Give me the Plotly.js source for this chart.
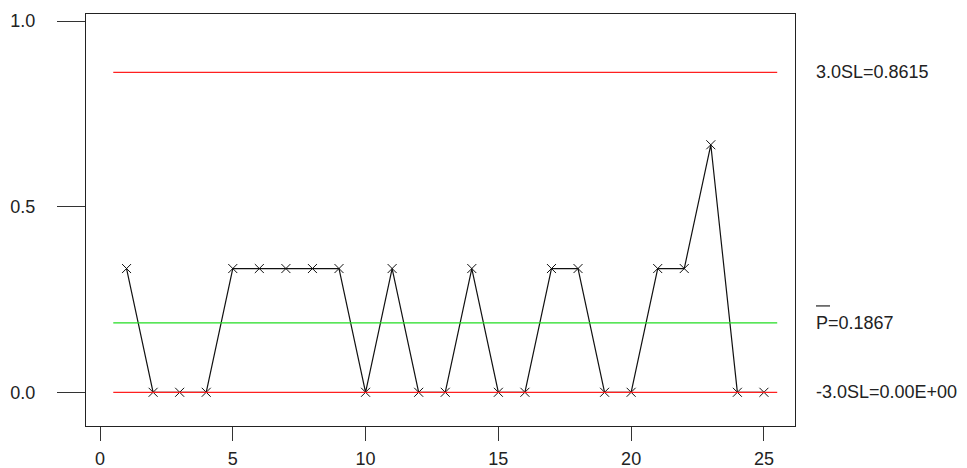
<!DOCTYPE html>
<html><head><meta charset="utf-8">
<script src="https://cdn.plot.ly/plotly-3.0.1.min.js"></script>
<style>body{margin:0;background:#fff}#c{width:967px;height:468px}</style>
</head><body><div id="c"></div>
<script>
const samples = [1,2,3,4,5,6,7,8,9,10,11,12,13,14,15,16,17,18,19,20,21,22,23,24,25];
const proportions = [0.3333,0,0,0,0.3333,0.3333,0.3333,0.3333,0.3333,0,0.3333,0,0,0.3333,0,0,0.3333,0.3333,0,0,0.3333,0.3333,0.6667,0,0];
const ucl = 0.8615;
const center = 0.1867;
const lcl = 0.0;
const limitSpan = [0.5, 25.5];
const limitLabels = ["3.0SL=0.8615", "P=0.1867", "-3.0SL=0.00E+00"];
const xTicks = [0,5,10,15,20,25];
const yTicks = [0.0,0.5,1.0];

const tickFont = {family: "Liberation Sans, Arial, sans-serif", size: 18, color: "#222"};
const annFont = {family: "Liberation Sans, Arial, sans-serif", size: 18, color: "#222"};

const traces = [
  {x: samples, y: proportions, mode: "lines+markers", type: "scatter",
   line: {color: "#111", width: 1.2},
   marker: {symbol: "x-thin-open", size: 9, line: {color: "#111", width: 1}, color: "#111"},
   hoverinfo: "x+y"},
  {x: limitSpan, y: [ucl, ucl], mode: "lines", line: {color: "#ff2020", width: 1.2}},
  {x: limitSpan, y: [center, center], mode: "lines", line: {color: "#22dd22", width: 1.2}},
  {x: limitSpan, y: [lcl, lcl], mode: "lines", line: {color: "#ff2020", width: 1.2}}
];

const limVals = [ucl, center, lcl];
const annotations = limVals.map((v, i) => ({
  x: 1.0275, xref: "paper", y: v, yref: "y", xanchor: "left", yanchor: "middle",
  text: limitLabels[i], showarrow: false, font: annFont
}));

const layout = {
  width: 967, height: 468,
  margin: {l: 86, r: 172, t: 14, b: 42},
  paper_bgcolor: "#fff", plot_bgcolor: "#fff",
  showlegend: false,
  font: tickFont,
  xaxis: {range: [-0.527, 26.17], tickvals: xTicks, ticks: "outside", ticklen: 14,
    tickcolor: "#333", showline: true, linecolor: "#222", linewidth: 1, mirror: true,
    showgrid: false, zeroline: false, ticklabelstandoff: 2, tickfont: tickFont},
  yaxis: {range: [-0.0908, 1.0189], tickvals: yTicks, tickformat: ".1f", ticks: "outside", ticklen: 28,
    tickcolor: "#333", showline: true, linecolor: "#222", linewidth: 1, mirror: true,
    showgrid: false, zeroline: false, ticklabelstandoff: 18, tickfont: tickFont},
  annotations: annotations,
  shapes: [{type: "line", xref: "paper", yref: "y", x0: 1.0296, x1: 1.0494, y0: 0.2326, y1: 0.2326,
    line: {color: "#222", width: 1.2}}]
};

Plotly.newPlot("c", traces, layout, {displayModeBar: false, staticPlot: true});
</script></body></html>
